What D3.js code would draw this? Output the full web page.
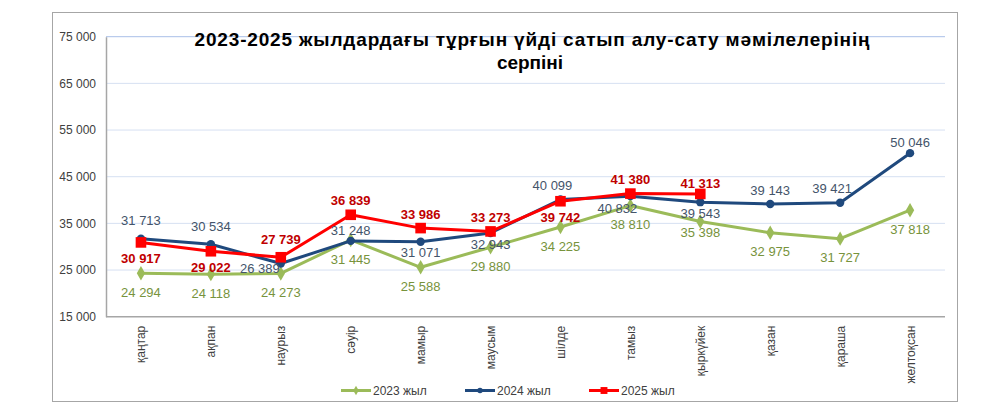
<!DOCTYPE html>
<html><head><meta charset="utf-8">
<script src="https://cdn.jsdelivr.net/npm/d3@7"></script>
<style>html,body{margin:0;padding:0;background:#fff;}svg{display:block;font-family:"Liberation Sans",Arial,sans-serif;}</style>
</head><body>
<svg id="c" width="1000" height="414"></svg>
<script>
// ---- data ----
const months = ["қаңтар","ақпан","наурыз","сәуір","мамыр","маусым","шілде","тамыз","қыркүйек","қазан","қараша","желтоқсан"];
const values2023 = [24294,24118,24273,31445,25588,29880,34225,38810,35398,32975,31727,37818];
const values2024 = [31713,30534,26389,31248,31071,32943,40099,40832,39543,39143,39421,50046];
const values2025 = [30917,29022,27739,36839,33986,33273,39742,41380,41313];
const seriesNames = ["2023 жыл","2024 жыл","2025 жыл"];
const yTicks = [15000,25000,35000,45000,55000,65000,75000];
const titleLines = ["2023-2025 жылдардағы тұрғын үйді сатып алу-сату мәмілелерінің","серпіні"];
// label placement codes (layout only)
const place2023 = ["B","B","B","B","B","B","B","B","BN","B","B","B"];
const place2024 = ["AF","AF","L","AN","BN","BN","AL","BL","BN","A","AL","AN"];
const place2025 = ["B2","B2","AF","A","A","A","B2","A","AN"];

const offs = {A:[0,-14],AF:[0,-18],AN:[0,-10.5],AL:[-8,-14],B:[0,19],B2:[0,16],BN:[0,11],BL:[-13,12],L:[-21,5]};

const svg = d3.select("#c");
const fmt = d3.formatLocale({decimal:".",thousands:" ",grouping:[3],currency:["",""]}).format(",d");

// outer frame
svg.append("rect").attr("x",52.5).attr("y",12.5).attr("width",905).attr("height",389)
  .attr("fill","#fff").attr("stroke","#a6a6a6").attr("stroke-width",1);

const x = d3.scalePoint().domain(months).range([106,945]).padding(0.5);
const y = d3.scaleLinear().domain([15000,75000]).range([316.7,36.7]);

// gridlines
svg.append("g").selectAll("line").data(yTicks.filter(t=>t>15000)).join("line")
  .attr("x1",106).attr("x2",945).attr("y1",d=>y(d)).attr("y2",d=>y(d))
  .attr("stroke",d=>d===75000?"#a9bfe8":"#d6e0f2").attr("stroke-width",1);

// y axis
const yAxis = d3.axisLeft(y).tickValues(yTicks).tickFormat(fmt).tickSize(0).tickPadding(10);
const gy = svg.append("g").attr("transform","translate(106,0)").call(yAxis);
gy.select(".domain").attr("stroke","#a6a6a6").attr("stroke-width",1.5);
gy.selectAll("text").attr("font-size",12).attr("fill","#404040").attr("font-family","Liberation Sans, Arial, sans-serif");

// x axis
const xAxis = d3.axisBottom(x).tickSize(0).tickPadding(0);
const gx = svg.append("g").attr("transform",`translate(0,${y(15000)})`).call(xAxis);
gx.select(".domain").attr("stroke","#a6a6a6").attr("stroke-width",1.5).attr("d","M106,0H945");
gx.selectAll("text").attr("font-size",12).attr("fill","#404040")
  .attr("font-family","Liberation Sans, Arial, sans-serif")
  .attr("text-anchor","end").attr("transform","translate(4,9) rotate(-90)").attr("dy",0).attr("y",0);

// title
const tg = svg.append("g").attr("font-weight","bold").attr("font-size",19).attr("fill","#000").attr("text-anchor","middle");
tg.append("text").attr("x",532).attr("y",45.5).attr("textLength",675).attr("lengthAdjust","spacing").text(titleLines[0]);
tg.append("text").attr("x",530).attr("y",68.5).text(titleLines[1]);

const series = [
  {name:seriesNames[0], vals:values2023, color:"#9BBB59", lab:"#77933C", bold:false, marker:"diamond", place:place2023},
  {name:seriesNames[1], vals:values2024, color:"#1F497D", lab:"#44546A", bold:false, marker:"circle", place:place2024},
  {name:seriesNames[2], vals:values2025, color:"#FF0000", lab:"#C00000", bold:true, marker:"square", place:place2025}
];

const line = d3.line().x((d,i)=>x(months[i])).y(d=>y(d));
function drawMarker(g, type, color, cx, cy, scale){
  const s = scale||1;
  if(type==="diamond"){
    g.append("path").attr("d",d3.symbol(d3.symbolDiamond, 60*s*s)()).attr("transform",`translate(${cx},${cy})`).attr("fill",color);
  } else if(type==="circle"){
    g.append("circle").attr("cx",cx).attr("cy",cy).attr("r",4.2*s).attr("fill",color);
  } else {
    const h = 5.3*s;
    g.append("rect").attr("x",cx-h).attr("y",cy-h).attr("width",2*h).attr("height",2*h).attr("fill",color);
  }
}

series.forEach(s=>{
  const g = svg.append("g");
  g.append("path").datum(s.vals).attr("d",line).attr("fill","none").attr("stroke",s.color).attr("stroke-width",3).attr("stroke-linejoin","round");
  s.vals.forEach((v,i)=>drawMarker(g,s.marker,s.color,x(months[i]),y(v)));
});
// labels on top
series.forEach(s=>{
  const g = svg.append("g").attr("font-size",13).attr("fill",s.lab).attr("text-anchor","middle").attr("font-weight",s.bold?"bold":"normal");
  s.vals.forEach((v,i)=>{
    const o = offs[s.place[i]];
    g.append("text").attr("x",x(months[i])+o[0]).attr("y",y(v)+o[1]).attr("dy","0.36em").text(fmt(v));
  });
});

// legend
const legX = [341,465,589];
series.forEach((s,i)=>{
  const g = svg.append("g");
  g.append("line").attr("x1",legX[i]).attr("x2",legX[i]+30).attr("y1",390.5).attr("y2",390.5).attr("stroke",s.color).attr("stroke-width",3);
  drawMarker(g,s.marker,s.color,legX[i]+15,390.5,0.65);
  g.append("text").attr("x",legX[i]+32).attr("y",390.5).attr("dy","0.36em").attr("font-size",12).attr("fill","#404040").text(s.name);
});
</script>
</body></html>
